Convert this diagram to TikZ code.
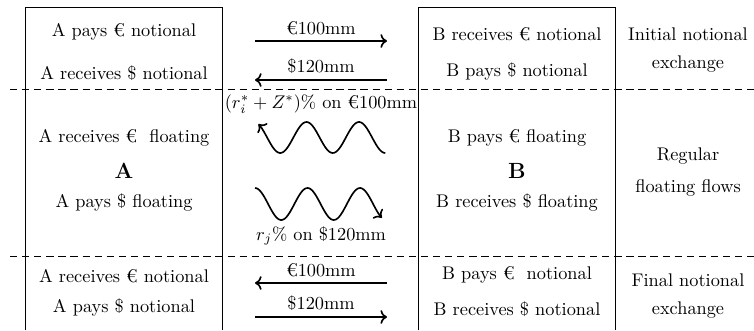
\documentclass[tikz,border=0pt]{standalone}
\usepackage{amsmath}
\usetikzlibrary{arrows.meta, positioning}

\begin{document}
\begin{tikzpicture}[
    x=0.0192cm, y=-0.0192cm,
    >=To,
    every node/.style={inner sep=0pt},
    panel/.style={minimum width=3.763cm, minimum height=6.182cm},
    side/.style={line width=0.6pt},
    sep/.style={line width=0.5pt, dash pattern=on 4pt off 2.6pt},
    flow/.style={line width=0.9pt},
    wave/.style={line width=0.9pt, samples=90, smooth},
    party/.style={font=\large\bfseries},
    phase/.style={align=center},
    amt/.style={above=3pt},
]
\useasboundingbox (0,0) rectangle (754,330);

% ============ Counterparty panels ============
\node[panel] (boxA) at (124,169) {};
\node[panel] (boxB) at (517,169) {};
\draw[side] (boxA.south west) |- (boxA.north east) -- (boxA.south east);
\draw[side] (boxB.south west) |- (boxB.north east) -- (boxB.south east);

% Phase separators
\coordinate (s1w) at (10,89);  \coordinate (s1e) at (754,89);
\coordinate (s2w) at (10,256); \coordinate (s2e) at (754,256);
\draw[sep] (s1w) -- (s1e);
\draw[sep] (s2w) -- (s2e);

% ============ Party A ============
\node (a1) at (124,32)  {A pays € notional};
\node (a2) at (124,73)  {A receives \$ notional};
\node (a3) at (124,138) {A receives €~ floating};
\node[party] (labA) at (124,171) {A};
\node (a4) at (124,203) {A pays \$ floating};
\node (a5) at (124,276) {A receives € notional};
\node (a6) at (124,308) {A pays \$ notional};

% ============ Party B ============
\node (b1) at (517,34)  {B receives € notional};
\node (b2) at (517,72)  {B pays \$ notional};
\node (b3) at (517,138) {B pays € floating};
\node[party] (labB) at (517,171) {B};
\node (b4) at (517,203) {B receives \$ floating};
\node (b5) at (517,275) {B pays €~ notional};
\node (b6) at (517,309) {B receives \$ notional};

% ============ Phases ============
\node[phase] (ph1) at (688,50)  {Initial notional\\[3pt]exchange};
\node[phase] (ph2) at (688,172) {Regular\\[5pt]floating flows};
\node[phase] (ph3) at (688,296) {Final notional\\[3pt]exchange};

% ============ Notional exchanges ============
\coordinate (n1w) at (255,41);  \coordinate (n1e) at (387,41);
\coordinate (n2w) at (255,80);  \coordinate (n2e) at (387,80);
\coordinate (n3w) at (255,283); \coordinate (n3e) at (387,283);
\coordinate (n4w) at (255,317); \coordinate (n4e) at (387,317);
\draw[flow, ->] (n1w) -- (n1e) node[amt, midway] (m1) {€100mm};
\draw[flow, <-] (n2w) -- (n2e) node[amt, midway] (m2) {\$120mm};
\draw[flow, <-] (n3w) -- (n3e) node[amt, midway] (m3) {€100mm};
\draw[flow, ->] (n4w) -- (n4e) node[amt, midway] (m4) {\$120mm};

% ============ Floating flows ============
\coordinate (wA) at (254,137.5);
\coordinate (wB) at (255,204);
\draw[wave, <-, shift={(wA)}] plot[domain=30:900] ({\x/360*52.5}, {-15.5*cos(\x)});
\draw[wave, ->, shift={(wB)}] plot[domain=0:870] ({\x/360*52.5}, {-16*cos(\x)});
\node (f1) at (321,104) {$(r_i^*+Z^*)\%$ on €100mm};
\node (f2) at (321,236) {$r_j\%$ on \$120mm};

\end{tikzpicture}
\end{document}
